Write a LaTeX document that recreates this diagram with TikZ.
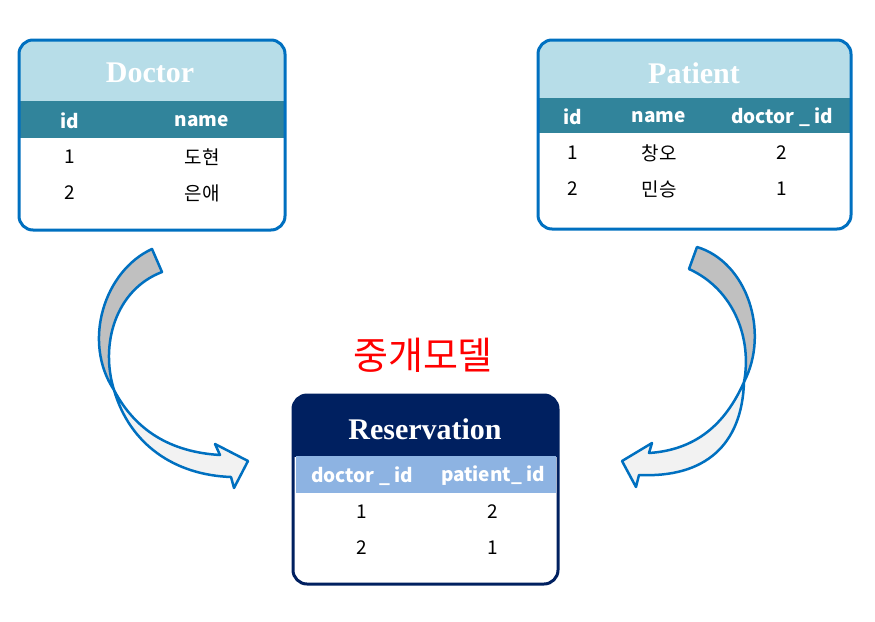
\documentclass[tikz,border=0pt]{standalone}
\usepackage{fontspec}
\setmainfont{Liberation Serif}
\newfontfamily\kr{Noto Sans CJK KR}
\definecolor{bord}{HTML}{0070C0}
\definecolor{hdr}{HTML}{B7DDE8}
\definecolor{band}{HTML}{31849B}
\definecolor{navy}{HTML}{002060}
\definecolor{lband}{HTML}{8DB3E2}
\definecolor{darkg}{HTML}{C0C0C0}
\definecolor{lightg}{HTML}{F2F2F2}
\definecolor{mred}{HTML}{FF0000}
\tikzset{
  tabtitle/.style={font=\fontsize{30}{30}\selectfont\bfseries, text=white, inner sep=0pt},
  colh/.style={font=\kr\fontsize{19}{19}\selectfont\bfseries, text=white, inner sep=0pt},
  cell/.style={font=\kr\fontsize{19}{19}\selectfont, text=black, inner sep=0pt},
  arrowline/.style={draw=bord, line width=2.5pt, line join=round},
  boxline/.style={line width=3pt, rounded corners=14pt},
}
\begin{document}
\begin{tikzpicture}[x=1pt,y=-1pt]
\useasboundingbox (0,0) rectangle (875,621);

% ---------- Doctor ----------
\fill[white, rounded corners=14pt] (19,40) rectangle (285,230);
\begin{scope}
  \clip[rounded corners=14pt] (19,40) rectangle (285,230);
  \fill[hdr] (19,40) rectangle (285,102);
  \fill[band] (19,101) rectangle (285,138);
\end{scope}
\draw[boxline, draw=bord] (19,40) rectangle (285,230);
\node[tabtitle] (dtitle) at (150,73) {Doctor};
\node[colh] (dh1) at (70,121) {id};
\node[colh] (dh2) at (202,121) {name};
\node[cell] (d11) at (70,157) {1};
\node[cell] (d12) at (202,157) {도현};
\node[cell] (d21) at (70,193) {2};
\node[cell] (d22) at (202,193) {은애};

% ---------- Patient ----------
\fill[white, rounded corners=14pt] (538,40) rectangle (851,229);
\begin{scope}
  \clip[rounded corners=14pt] (538,40) rectangle (851,229);
  \fill[hdr] (538,40) rectangle (851,99);
  \fill[band] (538,98) rectangle (851,133);
\end{scope}
\draw[boxline, draw=bord] (538,40) rectangle (851,229);
\node[tabtitle] (ptitle) at (694,73) {Patient};
\node[colh] (ph1) at (573,117) {id};
\node[colh] (ph2) at (659,117) {name};
\node[colh] (ph3) at (782,117) {doctor \_ id};
\node[cell] (p11) at (573,153) {1};
\node[cell] (p12) at (659,153) {창오};
\node[cell] (p13) at (782,153) {2};
\node[cell] (p21) at (573,189) {2};
\node[cell] (p22) at (659,189) {민승};
\node[cell] (p23) at (782,189) {1};

% ---------- Title ----------
\node[font=\kr\fontsize{38}{38}\selectfont, text=mred, inner sep=0pt] (mtitle) at (423,355) {중개모델};

% ---------- Reservation ----------
\fill[white, rounded corners=14pt] (293,395) rectangle (558,584);
\begin{scope}
  \clip[rounded corners=14pt] (293,395) rectangle (558,584);
  \fill[navy] (293,395) rectangle (558,457);
  \fill[lband] (296,456) rectangle (556,493);
\end{scope}
\draw[boxline, draw=navy] (293,395) rectangle (558,584);
\node[tabtitle] (rtitle) at (425,429) {Reservation};
\node[colh] (rh1) at (362,476) {doctor \_ id};
\node[colh] (rh2) at (493,476) {patient\_ id};
\node[cell] (r11) at (362,512) {1};
\node[cell] (r12) at (493,512) {2};
\node[cell] (r21) at (362,548) {2};
\node[cell] (r22) at (493,548) {1};

% ---------- Left curved arrow ----------
\filldraw[arrowline, fill=darkg] (152,249) .. controls (104,271) and (82,342) .. (114,390)
   .. controls (100,345) and (115,290) .. (162,272) -- cycle;
\filldraw[arrowline, fill=lightg] (114,390) .. controls (135,430) and (170,452) .. (220,455)
   -- (215,444) -- (248,461) -- (234,488) -- (231,477)
   .. controls (175,475) and (130,445) .. (114,390) -- cycle;

% ---------- Right curved arrow ----------
\filldraw[arrowline, fill=darkg] (697,247) .. controls (747,262) and (770,332) .. (744,382)
   .. controls (752,340) and (735,290) .. (689,269) -- cycle;
\filldraw[arrowline, fill=lightg] (744,382) .. controls (725,425) and (695,450) .. (649,453)
   -- (652,443) -- (622,461) -- (636,487) -- (639,475)
   .. controls (705,478) and (742,445) .. (744,382) -- cycle;
\end{tikzpicture}
\end{document}
